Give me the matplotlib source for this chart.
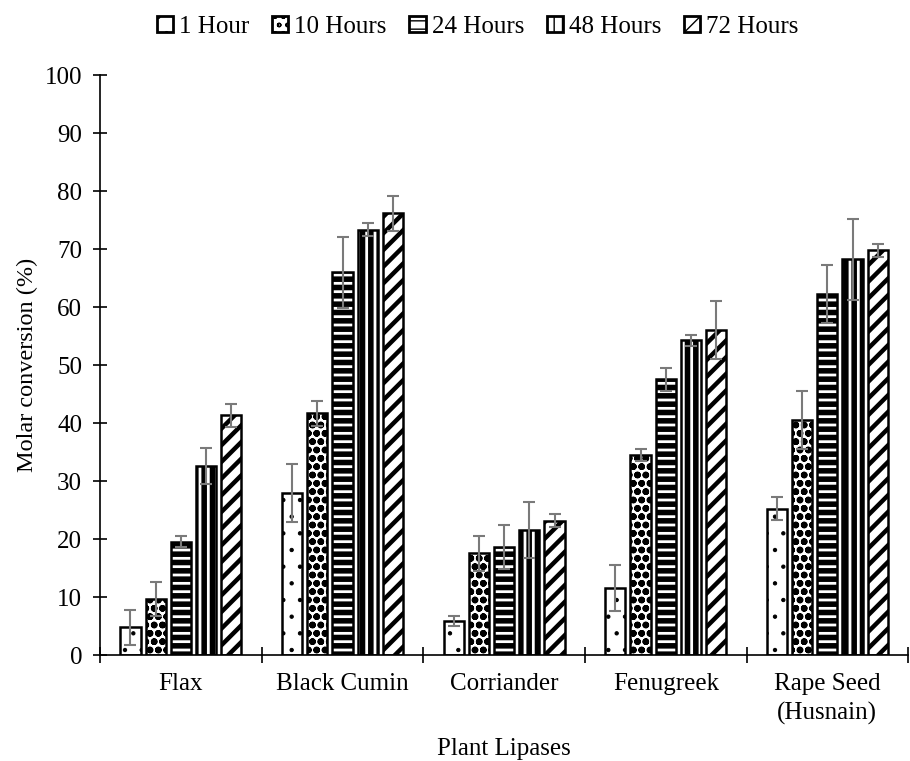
import numpy as np
import matplotlib
matplotlib.use("Agg")
import matplotlib.pyplot as plt

plt.rcParams['font.family'] = ['Liberation Serif', 'DejaVu Serif']

# data
lipases = ['Flax', 'Black Cumin', 'Corriander', 'Fenugreek', 'Rape Seed\n(Husnain)']
times = ['1 Hour', '10 Hours', '24 Hours', '48 Hours', '72 Hours']
h1 = [4.8, 27.9, 5.9, 11.6, 25.3]
h10 = [9.7, 41.7, 17.6, 34.5, 40.5]
h24 = [19.6, 66.0, 18.6, 47.6, 62.3]
h48 = [32.6, 73.4, 21.6, 54.3, 68.3]
h72 = [41.4, 76.2, 23.2, 56.0, 69.8]
e1 = [3.0, 5.0, 0.9, 4.0, 2.0]
e10 = [3.0, 2.1, 3.0, 1.0, 5.0]
e24 = [1.0, 6.1, 3.8, 2.0, 5.0]
e48 = [3.1, 1.1, 4.9, 1.0, 7.0]
e72 = [2.0, 3.0, 1.1, 5.0, 1.1]

series = [h1, h10, h24, h48, h72]
errors = [e1, e10, e24, e48, e72]
hatches = ['.', 'oo', '--', '||', '//']
hatch_lw = [0.7, 2.4, 4.0, 4.0, 3.2]

fig = plt.figure(figsize=(9.1, 7.61), dpi=100)
ax = fig.add_axes([0.11, 0.139, 0.888, 0.762])

x = np.arange(len(lipases))
pitch = 0.156
width = 0.125
for i, (vals, errs) in enumerate(zip(series, errors)):
    with plt.rc_context({'hatch.linewidth': hatch_lw[i]}):
        bars = ax.bar(x + (i - 2) * pitch, vals, width, color='white',
                      edgecolor='black', linewidth=1.8, hatch=hatches[i],
                      label=times[i], zorder=2)
        for b in bars:
            if hasattr(b, 'set_hatch_linewidth'):
                b.set_hatch_linewidth(hatch_lw[i])
    ax.errorbar(x + (i - 2) * pitch, vals, yerr=errs, fmt='none',
                ecolor='#7a7a7a', elinewidth=1.5, capsize=4, capthick=1.5, zorder=3)

ax.set_ylim(0, 100)
ax.set_yticks(np.arange(0, 101, 10))
ax.set_xlim(-0.5, 4.46)
ax.set_xticks(x)
ax.set_xticklabels(lipases, linespacing=1.35)
ax.set_xticks(np.arange(-0.5, 5, 1), minor=True)
ax.tick_params(axis='x', which='major', length=0, pad=13, labelsize=18)
ax.tick_params(axis='x', which='minor', direction='inout', length=12, width=1.2)
ax.tick_params(axis='y', direction='inout', length=10, width=1.2, labelsize=18, pad=8)
for s in ['top', 'right']:
    ax.spines[s].set_visible(False)
for s in ['left', 'bottom']:
    ax.spines[s].set_linewidth(1.2)

ax.set_ylabel('Molar conversion (%)', fontsize=17.5, labelpad=5)
ax.set_xlabel('Plant Lipases', fontsize=18, labelpad=10)

leg = fig.legend(loc='upper center', bbox_to_anchor=(0.525, 1.009), ncol=5, frameon=False,
                 fontsize=18, handlelength=0.65, handleheight=0.65, handletextpad=0.25,
                 columnspacing=0.9)
for h in leg.legend_handles:
    h.set_linewidth(2.0)

fig.savefig('out.png', dpi=100)
